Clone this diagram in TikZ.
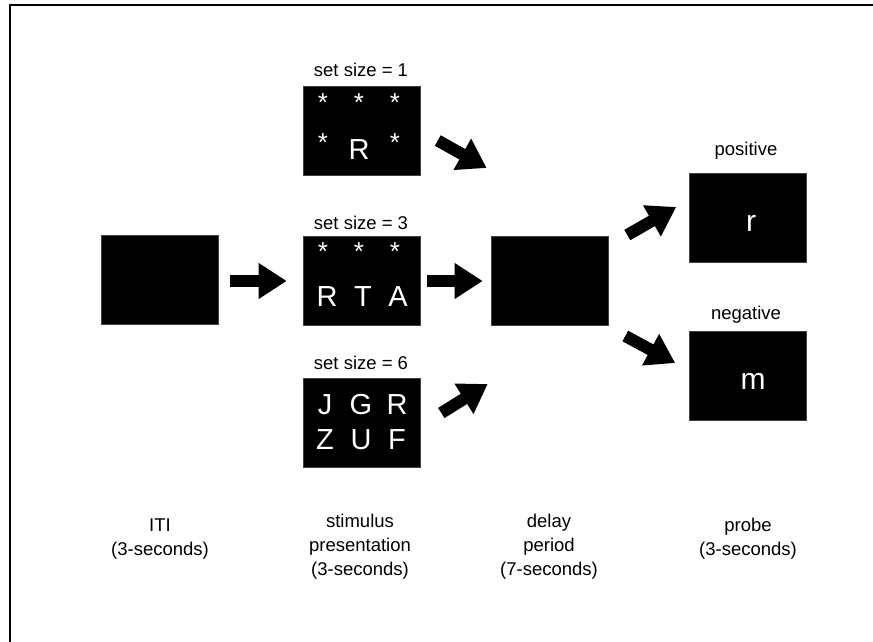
\documentclass[tikz,border=0pt]{standalone}
\usepackage{fontspec}
\setmainfont{Liberation Sans}
\usetikzlibrary{arrows.meta,calc}
\begin{document}
\begin{tikzpicture}[x=1pt,y=-1pt,
  screen/.style={fill=black,draw=black!75,line width=0.6pt,minimum width=117pt,minimum height=89pt,inner sep=0pt},
  big/.style={text=white,font=\fontsize{29}{31}\selectfont,inner sep=0pt},
  star/.style={text=white,font=\fontsize{26}{28}\selectfont,inner sep=0pt},
  lbl/.style={font=\fontsize{18.5}{22}\selectfont,inner sep=0pt},
  captext/.style={font=\fontsize{18.5}{24}\selectfont,align=center,inner sep=0pt},
  blk/.style={line width=12pt,-{Triangle[length=28pt,width=34pt]}}]
\useasboundingbox (0,0) rectangle (873,642);
\fill[white] (0,0) rectangle (873,642);
\draw[line width=2pt] (873,5.5) -- (9.5,5.5) -- (9.5,642);

% screens
\node[screen] (iti) at (159.5,280) {};
\node[screen] (s1) at (361.5,130.5) {};
\node[screen] (s3) at (361.5,281) {};
\node[screen] (s6) at (361.5,422.5) {};
\node[screen] (delay) at (549.5,280.5) {};
\node[screen] (pos) at (748,218) {};
\node[screen] (neg) at (748,375.5) {};

% labels above screens
\node[lbl] (l1) at (361,70) {set size = 1};
\node[lbl] (l3) at (361,223) {set size = 3};
\node[lbl] (l6) at (361,363) {set size = 6};
\node[lbl] (lp) at (746,151) {positive};
\node[lbl] (ln) at (746,315) {negative};

% set size 1 contents
\node[star] (a1) at (323,103) {*};
\node[star] (a2) at (359,103) {*};
\node[star] (a3) at (395,103) {*};
\node[star] (a4) at (323,143) {*};
\node[big]  (a5) at (359,150) {R};
\node[star] (a6) at (395,143) {*};

% set size 3 contents
\node[star] (b1) at (323,252) {*};
\node[star] (b2) at (359,252) {*};
\node[star] (b3) at (395,252) {*};
\node[big]  (b4) at (327,297) {R};
\node[big]  (b5) at (363,297) {T};
\node[big]  (b6) at (398,297) {A};

% set size 6 contents
\node[big] (c1) at (325,405) {J};
\node[big] (c2) at (361,405) {G};
\node[big] (c3) at (397,405) {R};
\node[big] (c4) at (325,440) {Z};
\node[big] (c5) at (361,440) {U};
\node[big] (c6) at (397,440) {F};

% probes
\node[text=white,font=\fontsize{30}{32}\selectfont,inner sep=0pt] (pr) at (751,223) {r};
\node[text=white,font=\fontsize{30}{32}\selectfont,inner sep=0pt] (pm) at (753,381) {m};

% arrows
\draw[blk] ($(iti.east)+(12,1)$) -- ($(s3.west)+(-16,0)$);
\draw[blk] ($(s3.east)+(7,0)$) -- ($(delay.west)+(-8,0.5)$);
\draw[blk] ($(s1.east)+(17.5,10)$) -- ($(delay.west)+(-4,-112.5)$);
\draw[blk] ($(s6.east)+(21,-9.5)$) -- ($(delay.west)+(-3,103.5)$);
\draw[blk] ($(delay.east)+(19,-45.5)$) -- ($(pos.west)+(-13,-11)$);
\draw[blk] ($(delay.east)+(17,55.5)$) -- ($(neg.west)+(-14,-12.5)$);

% bottom captions
\node[captext] (t1) at (160,539) {ITI\\(3-seconds)};
\node[captext] (t2) at (360,547) {stimulus\\presentation\\(3-seconds)};
\node[captext] (t3) at (549,547) {delay\\period\\(7-seconds)};
\node[captext] (t4) at (748,539) {probe\\(3-seconds)};
\end{tikzpicture}
\end{document}
